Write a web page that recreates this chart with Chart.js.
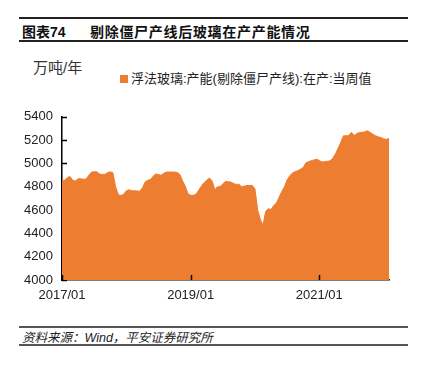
<!DOCTYPE html>
<html>
<head>
<meta charset="utf-8">
<script src="https://cdn.jsdelivr.net/npm/chart.js@4"></script>
<style>
  body { margin: 0; background: #fff; width: 423px; height: 366px; position: relative; overflow: hidden;
         font-family: "Liberation Sans", "Noto Sans CJK SC", sans-serif; color: #222; }
  .rule { position: absolute; left: 19px; width: 389px; height: 2px; }
  .t { position: absolute; white-space: nowrap; }
  #wrap { position: absolute; left: 0; top: 100px; width: 423px; height: 210px; }
</style>
</head>
<body>
<div class="rule" style="top:17px;background:#222"></div>
<div class="t" style="left:22px;top:23px;font-size:14px;line-height:18px;font-weight:bold;color:#111">图表74</div>
<div class="t" style="left:90px;top:23px;font-size:14px;line-height:18px;font-weight:bold;color:#111;letter-spacing:0.7px">剔除僵尸产线后玻璃在产产能情况</div>
<div class="rule" style="top:40px;background:#222"></div>

<div class="t" style="left:33px;top:59px;font-size:15px;line-height:18px;color:#333">万吨/年</div>
<div id="legend" class="t" style="left:120px;top:70px;font-size:13px;line-height:17px;color:#222"></div>

<div id="wrap"><canvas id="chart"></canvas></div>

<div class="rule" style="top:326px;background:#555"></div>
<div class="t" style="left:22px;top:330px;font-size:12.5px;line-height:16px;font-style:italic;color:#222">资料来源：Wind，平安证券研究所</div>
<div class="rule" style="top:344px;background:#555"></div>

<script>
const seriesName = '浮法玻璃:产能(剔除僵尸产线):在产:当周值';
const xTickLabels = ['2017/01', '2019/01', '2021/01'];
const yTicks = [4000, 4200, 4400, 4600, 4800, 5000, 5200, 5400];

// semi-monthly readings, 2017/01 .. 2022/02
const capacity = [
  4854, 4856, 4878, 4888, 4855, 4850, 4868, 4868, 4865, 4866,
  4898, 4926, 4928, 4928, 4910, 4905, 4906, 4920, 4928, 4920,
  4800, 4732, 4724, 4735, 4765, 4774, 4766, 4765, 4764, 4762,
  4790, 4840, 4856, 4862, 4890, 4910, 4905, 4898, 4915, 4926,
  4926, 4926, 4926, 4922, 4905, 4850, 4805, 4740, 4726, 4726,
  4735, 4770, 4805, 4835, 4855, 4875, 4850, 4775, 4800, 4800,
  4825, 4845, 4842, 4840, 4828, 4820, 4822, 4800, 4805, 4811,
  4811, 4811, 4780, 4600, 4520, 4470, 4590, 4612, 4605, 4640,
  4660, 4710, 4760, 4800, 4858, 4895, 4918, 4930, 4938, 4950,
  4965, 5005, 5015, 5024, 5030, 5036, 5025, 5012, 5015, 5018,
  5022, 5045, 5080, 5130, 5180, 5237, 5237, 5240, 5266, 5240,
  5255, 5266, 5266, 5272, 5280, 5266, 5250, 5237, 5228, 5222,
  5212, 5205, 5215
];

const categories = [];
for (let y = 2017; y <= 2022; y++) {
  for (let m = 1; m <= 12; m++) {
    const mm = String(m).padStart(2, '0');
    categories.push(y + '/' + mm + '/01', y + '/' + mm + '/16');
  }
}
categories.length = capacity.length;

const orange = '#ED7D31';

document.getElementById('legend').innerHTML =
  '<span style="display:inline-block;width:8px;height:8px;background:' + orange +
  ';margin-right:3px;vertical-align:0px"></span>' + seriesName;

// tick marks pointing into the plot
const innerTicks = {
  id: 'innerTicks',
  beforeDatasetsDraw(chart) {
    const { ctx, scales: { y }, chartArea: a } = chart;
    ctx.save();
    ctx.strokeStyle = '#000';
    ctx.lineWidth = 1.5;
    ctx.beginPath();
    y.ticks.forEach(t => {
      const py = Math.round(y.getPixelForValue(t.value)) + 0.5;
      ctx.moveTo(a.left, py);
      ctx.lineTo(a.left + 5, py);
    });
    ctx.stroke();
    ctx.restore();
  },
  afterDatasetsDraw(chart) {
    const { ctx, scales: { x }, chartArea: a } = chart;
    ctx.save();
    ctx.strokeStyle = '#000';
    ctx.lineWidth = 1.5;
    ctx.beginPath();
    x.ticks.forEach(t => {
      const px = Math.round(x.getPixelForValue(t.value)) + 0.5;
      ctx.moveTo(px, a.bottom);
      ctx.lineTo(px, a.bottom - 5);
    });
    ctx.stroke();
    ctx.restore();
  }
};

const tickFont = { family: '"Liberation Sans", Arial, sans-serif', size: 13 };

new Chart(document.getElementById('chart').getContext('2d'), {
  type: 'line',
  data: {
    labels: categories,
    datasets: [{
      label: seriesName,
      data: capacity,
      borderColor: orange,
      borderWidth: 1,
      backgroundColor: orange,
      fill: 'start',
      pointRadius: 0,
      tension: 0
    }]
  },
  options: {
    responsive: true,
    maintainAspectRatio: false,
    animation: false,
    layout: { padding: { top: 16, right: 34, left: 0, bottom: 0 } },
    plugins: {
      legend: { display: false },
      tooltip: { enabled: false }
    },
    scales: {
      x: {
        grid: { display: false, drawTicks: false },
        border: { display: true, color: '#000', width: 1.5 },
        ticks: {
          autoSkip: false,
          maxRotation: 0,
          minRotation: 0,
          padding: 8,
          color: '#222',
          font: tickFont,
          callback(v) { return this.getLabelForValue(v).slice(0, 7); }
        },
        afterBuildTicks(s) {
          s.ticks = s.ticks.filter(t => {
            const lab = s.getLabelForValue(t.value);
            return lab.endsWith('/01') && xTickLabels.includes(lab.slice(0, 7));
          });
        },
        afterFit(s) { s.height = 30; }
      },
      y: {
        min: yTicks[0],
        max: yTicks[yTicks.length - 1],
        grid: { display: false, drawTicks: false },
        border: { display: true, color: '#000', width: 1.5 },
        ticks: { stepSize: 200, padding: 9, color: '#222', font: tickFont, callback: v => String(v) },
        afterFit(s) { s.width = 62; }
      }
    }
  },
  plugins: [innerTicks]
});
</script>
</body>
</html>
